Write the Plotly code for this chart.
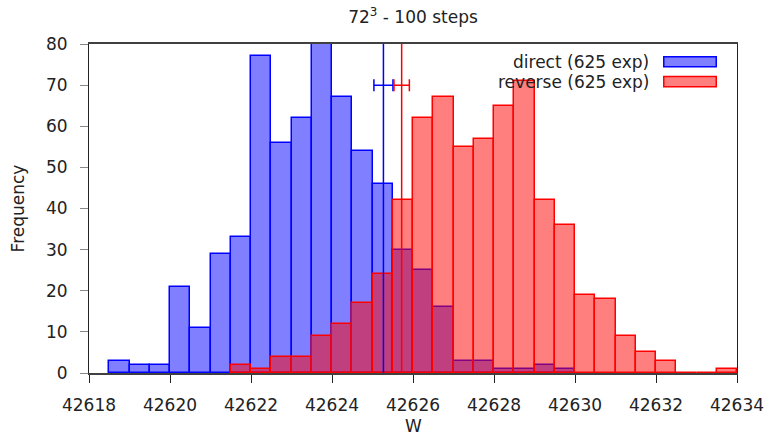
import plotly.graph_objects as go

# ---- data ----
bin_width = 0.5
direct_start = 42618.5
direct_counts = [3, 2, 2, 21, 11, 29, 33, 77, 56, 62, 80, 67, 54, 46, 30, 25, 16, 3, 3, 1, 1, 2, 1]
reverse_start = 42621.5
reverse_counts = [2, 1, 4, 4, 9, 12, 17, 24, 42, 62, 67, 55, 57, 65, 71, 42, 36, 19, 18, 9, 5, 3, 0, 0, 1]

direct_mean = 42625.27
direct_err = 0.235
reverse_mean = 42625.72
reverse_err = 0.19
err_y = 70

x_ticks = [42618, 42620, 42622, 42624, 42626, 42628, 42630, 42632, 42634]
y_ticks = [0, 10, 20, 30, 40, 50, 60, 70, 80]
x_range = [42618, 42634]
y_range = [0, 80]

legend_labels = ["direct (625 exp)", "reverse (625 exp)"]
title_text = "72<sup>3</sup> - 100 steps"
x_title = "W"
y_title = "Frequency"

FONT = "DejaVu Sans"
BLUE = "rgb(0,0,255)"
RED = "rgb(255,0,0)"
BLUE_F = "rgba(0,0,255,0.5)"
RED_F = "rgba(255,0,0,0.5)"

def centers(start, counts):
    return [start + bin_width * (i + 0.5) for i in range(len(counts))]

fig = go.Figure()
fig.add_trace(go.Bar(x=centers(direct_start, direct_counts), y=direct_counts, width=bin_width,
                     marker=dict(color=BLUE_F, line=dict(color=BLUE, width=1.5)),
                     name=legend_labels[0], showlegend=False))
fig.add_trace(go.Bar(x=centers(reverse_start, reverse_counts), y=reverse_counts, width=bin_width,
                     marker=dict(color=RED_F, line=dict(color=RED, width=1.5)),
                     name=legend_labels[1], showlegend=False))

for m, e, c in [(direct_mean, direct_err, BLUE), (reverse_mean, reverse_err, RED)]:
    fig.add_trace(go.Scatter(x=[m, m], y=y_range, mode="lines",
                             line=dict(color=c, width=1.5), showlegend=False, hoverinfo="skip"))
    fig.add_trace(go.Scatter(x=[m], y=[err_y], mode="markers",
                             marker=dict(size=1, color=c, opacity=0),
                             error_x=dict(type="data", array=[e], color=c, thickness=1.5, width=6),
                             showlegend=False, hoverinfo="skip"))

# custom legend (text left of swatch, gnuplot style)
leg_text_y = [0.946, 0.885]
leg_box_y = [(0.931, 0.961), (0.870, 0.901)]
for lbl, ty, (y0, y1), lc, fc in zip(legend_labels, leg_text_y, leg_box_y, [BLUE, RED], [BLUE_F, RED_F]):
    fig.add_annotation(x=0.868, y=ty, xref="paper", yref="paper", text=lbl, showarrow=False,
                       xanchor="right", yanchor="middle", font=dict(family=FONT, size=17, color="#222"))
    fig.add_shape(type="rect", xref="paper", yref="paper", x0=0.887, x1=0.968, y0=y0, y1=y1,
                  line=dict(color=lc, width=1.5), fillcolor=fc)

# x-axis title placed as annotation
fig.add_annotation(x=0.5, y=-(425.5 - 373) / 329, xref="paper", yref="paper", text=x_title,
                   showarrow=False, xanchor="center", yanchor="middle",
                   font=dict(family=FONT, size=17, color="#222"))

fig.update_layout(
    width=769, height=437,
    barmode="overlay", bargap=0,
    plot_bgcolor="white", paper_bgcolor="white",
    margin=dict(l=89, r=32, t=44, b=64, autoexpand=False),
    font=dict(family=FONT, size=17, color="#222"),
    title=dict(text=title_text, x=(89 + 737) / 2 / 769, xanchor="center",
               y=1 - 17 / 437, yanchor="middle", yref="container",
               font=dict(family=FONT, size=17, color="#222")),
    showlegend=False,
)
fig.update_xaxes(range=x_range, tickvals=x_ticks, ticktext=[str(t) for t in x_ticks],
                 showgrid=False, zeroline=False, showline=True, mirror=True, automargin=False,
                 linecolor="#404040", linewidth=2, ticks="outside", ticklen=8, tickcolor="#222",
                 ticklabelstandoff=8)
fig.update_yaxes(range=y_range, tickvals=y_ticks, showgrid=False, zeroline=False, automargin=False,
                 showline=True, mirror=True, linecolor="#222", linewidth=1,
                 ticks="outside", ticklen=8, tickcolor="#888", ticklabelstandoff=9,
                 title=dict(text=y_title, standoff=17, font=dict(family=FONT, size=17)))

fig.write_html("out.html", config={"displayModeBar": False},
               post_script="document.body.style.margin='0';document.body.style.overflow='hidden';")
